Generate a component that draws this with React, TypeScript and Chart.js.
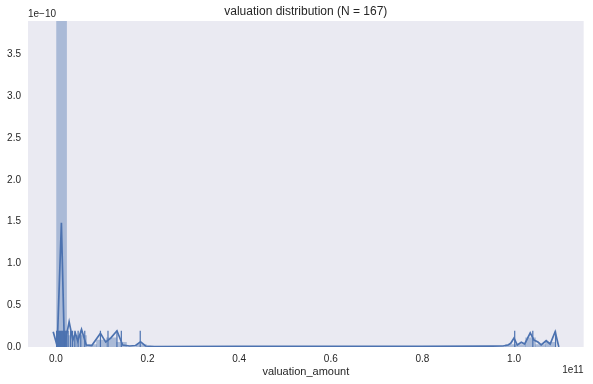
import React, { useEffect, useRef } from "react";
import { Chart, registerables } from "chart.js";

Chart.register(...registerables);

// x values in units of 1e11, density values in units of 1e-10
const N = 167;
const X_TICKS = [0, 0.2, 0.4, 0.6, 0.8, 1.0];
const Y_TICKS = [0, 0.5, 1.0, 1.5, 2.0, 2.5, 3.0, 3.5];
const X_MIN = -0.0609;
const X_MAX = 1.152;
const Y_MAX = 3.9;

const BIN_START = 0.0015;
const BIN_WIDTH = 0.02178;
const BIN_COUNTS = [
  145, 5, 5, 1, 3, 4, 2, 0, 1, 0,
  0, 0, 0, 0, 0, 0, 0, 0, 0, 0,
  0, 0, 0, 0, 0, 0, 0, 0, 0, 0,
  0, 0, 0, 0, 0, 0, 0, 0, 0, 0,
  0, 0, 0, 0, 0, 1, 1, 4, 1, 2,
];

const KDE_X = [
  -0.0059, 0.0028, 0.012, 0.0185, 0.0289, 0.037, 0.0424, 0.0478, 0.0559, 0.0663,
  0.0783, 0.0972, 0.1087, 0.1196, 0.1333, 0.1457, 0.1609, 0.1739, 0.1848, 0.1957,
  0.215, 0.4, 0.6, 0.8, 0.95, 0.976, 0.987, 0.9928, 1.0, 1.0072,
  1.0159, 1.0233, 1.0354, 1.0435, 1.0522, 1.0593, 1.0702, 1.0789, 1.0898, 1.0978,
];
const KDE_Y = [
  0.182, 0.012, 1.485, 0.012, 0.3, 0.083, 0.166, 0.071, 0.21, 0.024,
  0.018, 0.163, 0.059, 0.107, 0.194, 0.024, 0.012, 0.018, 0.063, 0.012,
  0.006, 0.008, 0.008, 0.008, 0.01, 0.012, 0.024, 0.044, 0.107, 0.024,
  0.056, 0.036, 0.17, 0.083, 0.059, 0.024, 0.075, 0.036, 0.182, 0.0,
];

const RUG_X = [
  0.0015, 0.0037, 0.0059, 0.0081, 0.0103, 0.0125, 0.0147, 0.0169, 0.0191, 0.0213, 0.0235,
  0.0267, 0.032, 0.0363, 0.0413, 0.0485, 0.0543, 0.063,
  0.0972, 0.1137, 0.1333, 0.1428, 0.1841,
  1.0015, 1.041, 1.0907,
];

const BLUE = "#4c72b0";
const TEXT = "#262626";
const FONT = "'Liberation Sans', Arial, sans-serif";

const deco = {
  id: "deco",
  beforeDraw(chart: any) {
    const { ctx, chartArea: a } = chart;
    ctx.save();
    ctx.fillStyle = "#eaeaf2";
    ctx.fillRect(a.left, a.top, a.right - a.left, a.bottom - a.top);
    ctx.restore();
  },
  afterDraw(chart: any) {
    const { ctx, chartArea: a } = chart;
    ctx.save();
    ctx.fillStyle = TEXT;
    ctx.textBaseline = "alphabetic";
    ctx.textAlign = "center";
    ctx.font = `12px ${FONT}`;
    ctx.fillText("valuation distribution (N = 167)", (a.left + a.right) / 2, 14.5);
    ctx.font = `11px ${FONT}`;
    ctx.fillText("valuation_amount", (a.left + a.right) / 2, 374.5);
    ctx.font = `10px ${FONT}`;
    ctx.textAlign = "left";
    ctx.fillText("1e\u221210", a.left, 17.3);
    ctx.textAlign = "right";
    ctx.fillText("1e11", a.right, 373);
    ctx.restore();
  },
};

export default function App() {
  const ref = useRef<HTMLCanvasElement>(null);
  useEffect(() => {
    document.body.style.margin = "0";
    const canvas = ref.current!;
    const hist = BIN_COUNTS.map((c, i) => ({
      x: BIN_START + BIN_WIDTH * (i + 0.5),
      y: c / (N * BIN_WIDTH * 10),
    }));
    const kde = KDE_X.map((x, i) => ({ x, y: KDE_Y[i] }));
    const rugH = Y_MAX * 0.05;
    const rug = RUG_X.map((x) => ({ x, y: rugH / 2 }));

    const chart = new Chart(canvas, {
      type: "line",
      data: {
        datasets: [
          {
            type: "bar",
            data: hist as any,
            backgroundColor: "rgba(76,114,176,0.4)",
            borderWidth: 0,
            barPercentage: 1,
            categoryPercentage: 1,
            order: 3,
          } as any,
          {
            type: "line",
            data: kde as any,
            borderColor: BLUE,
            borderWidth: 1.7,
            pointRadius: 0,
            tension: 0,
            fill: false,
            order: 2,
          } as any,
          {
            type: "scatter",
            data: rug as any,
            pointStyle: "line",
            rotation: 90,
            pointRadius: 8.15,
            borderColor: BLUE,
            borderWidth: 1.2,
            order: 1,
          } as any,
        ],
      },
      options: {
        responsive: false,
        animation: false,
        events: [],
        layout: { padding: { top: 21, right: 7, left: 0, bottom: 0 } },
        plugins: {
          legend: { display: false },
          tooltip: { enabled: false },
          title: { display: false },
        },
        scales: {
          x: {
            type: "linear",
            min: X_MIN,
            max: X_MAX,
            offset: false,
            grid: { display: false, drawTicks: false },
            border: { display: false },
            afterBuildTicks: (axis: any) => {
              axis.ticks = X_TICKS.map((v) => ({ value: v }));
            },
            afterFit: (axis: any) => {
              axis.height = 37;
            },
            ticks: {
              color: TEXT,
              font: { family: FONT, size: 10 },
              padding: 6,
              maxRotation: 0,
              callback: (v: any) => Number(v).toFixed(1),
            },
          },
          y: {
            type: "linear",
            min: 0,
            max: Y_MAX,
            grid: { display: false, drawTicks: false },
            border: { display: false },
            afterBuildTicks: (axis: any) => {
              axis.ticks = Y_TICKS.map((v) => ({ value: v }));
            },
            afterFit: (axis: any) => {
              axis.width = 28;
            },
            ticks: {
              color: TEXT,
              font: { family: FONT, size: 10 },
              padding: 7,
              callback: (v: any) => Number(v).toFixed(1),
            },
          },
        },
      },
      plugins: [deco],
    });
    return () => chart.destroy();
  }, []);
  return (
    <div style={{ position: "absolute", left: 0, top: 0, width: 593, height: 384 }}>
      <canvas ref={ref} width={593} height={384} style={{ width: 593, height: 384 }} />
    </div>
  );
}
